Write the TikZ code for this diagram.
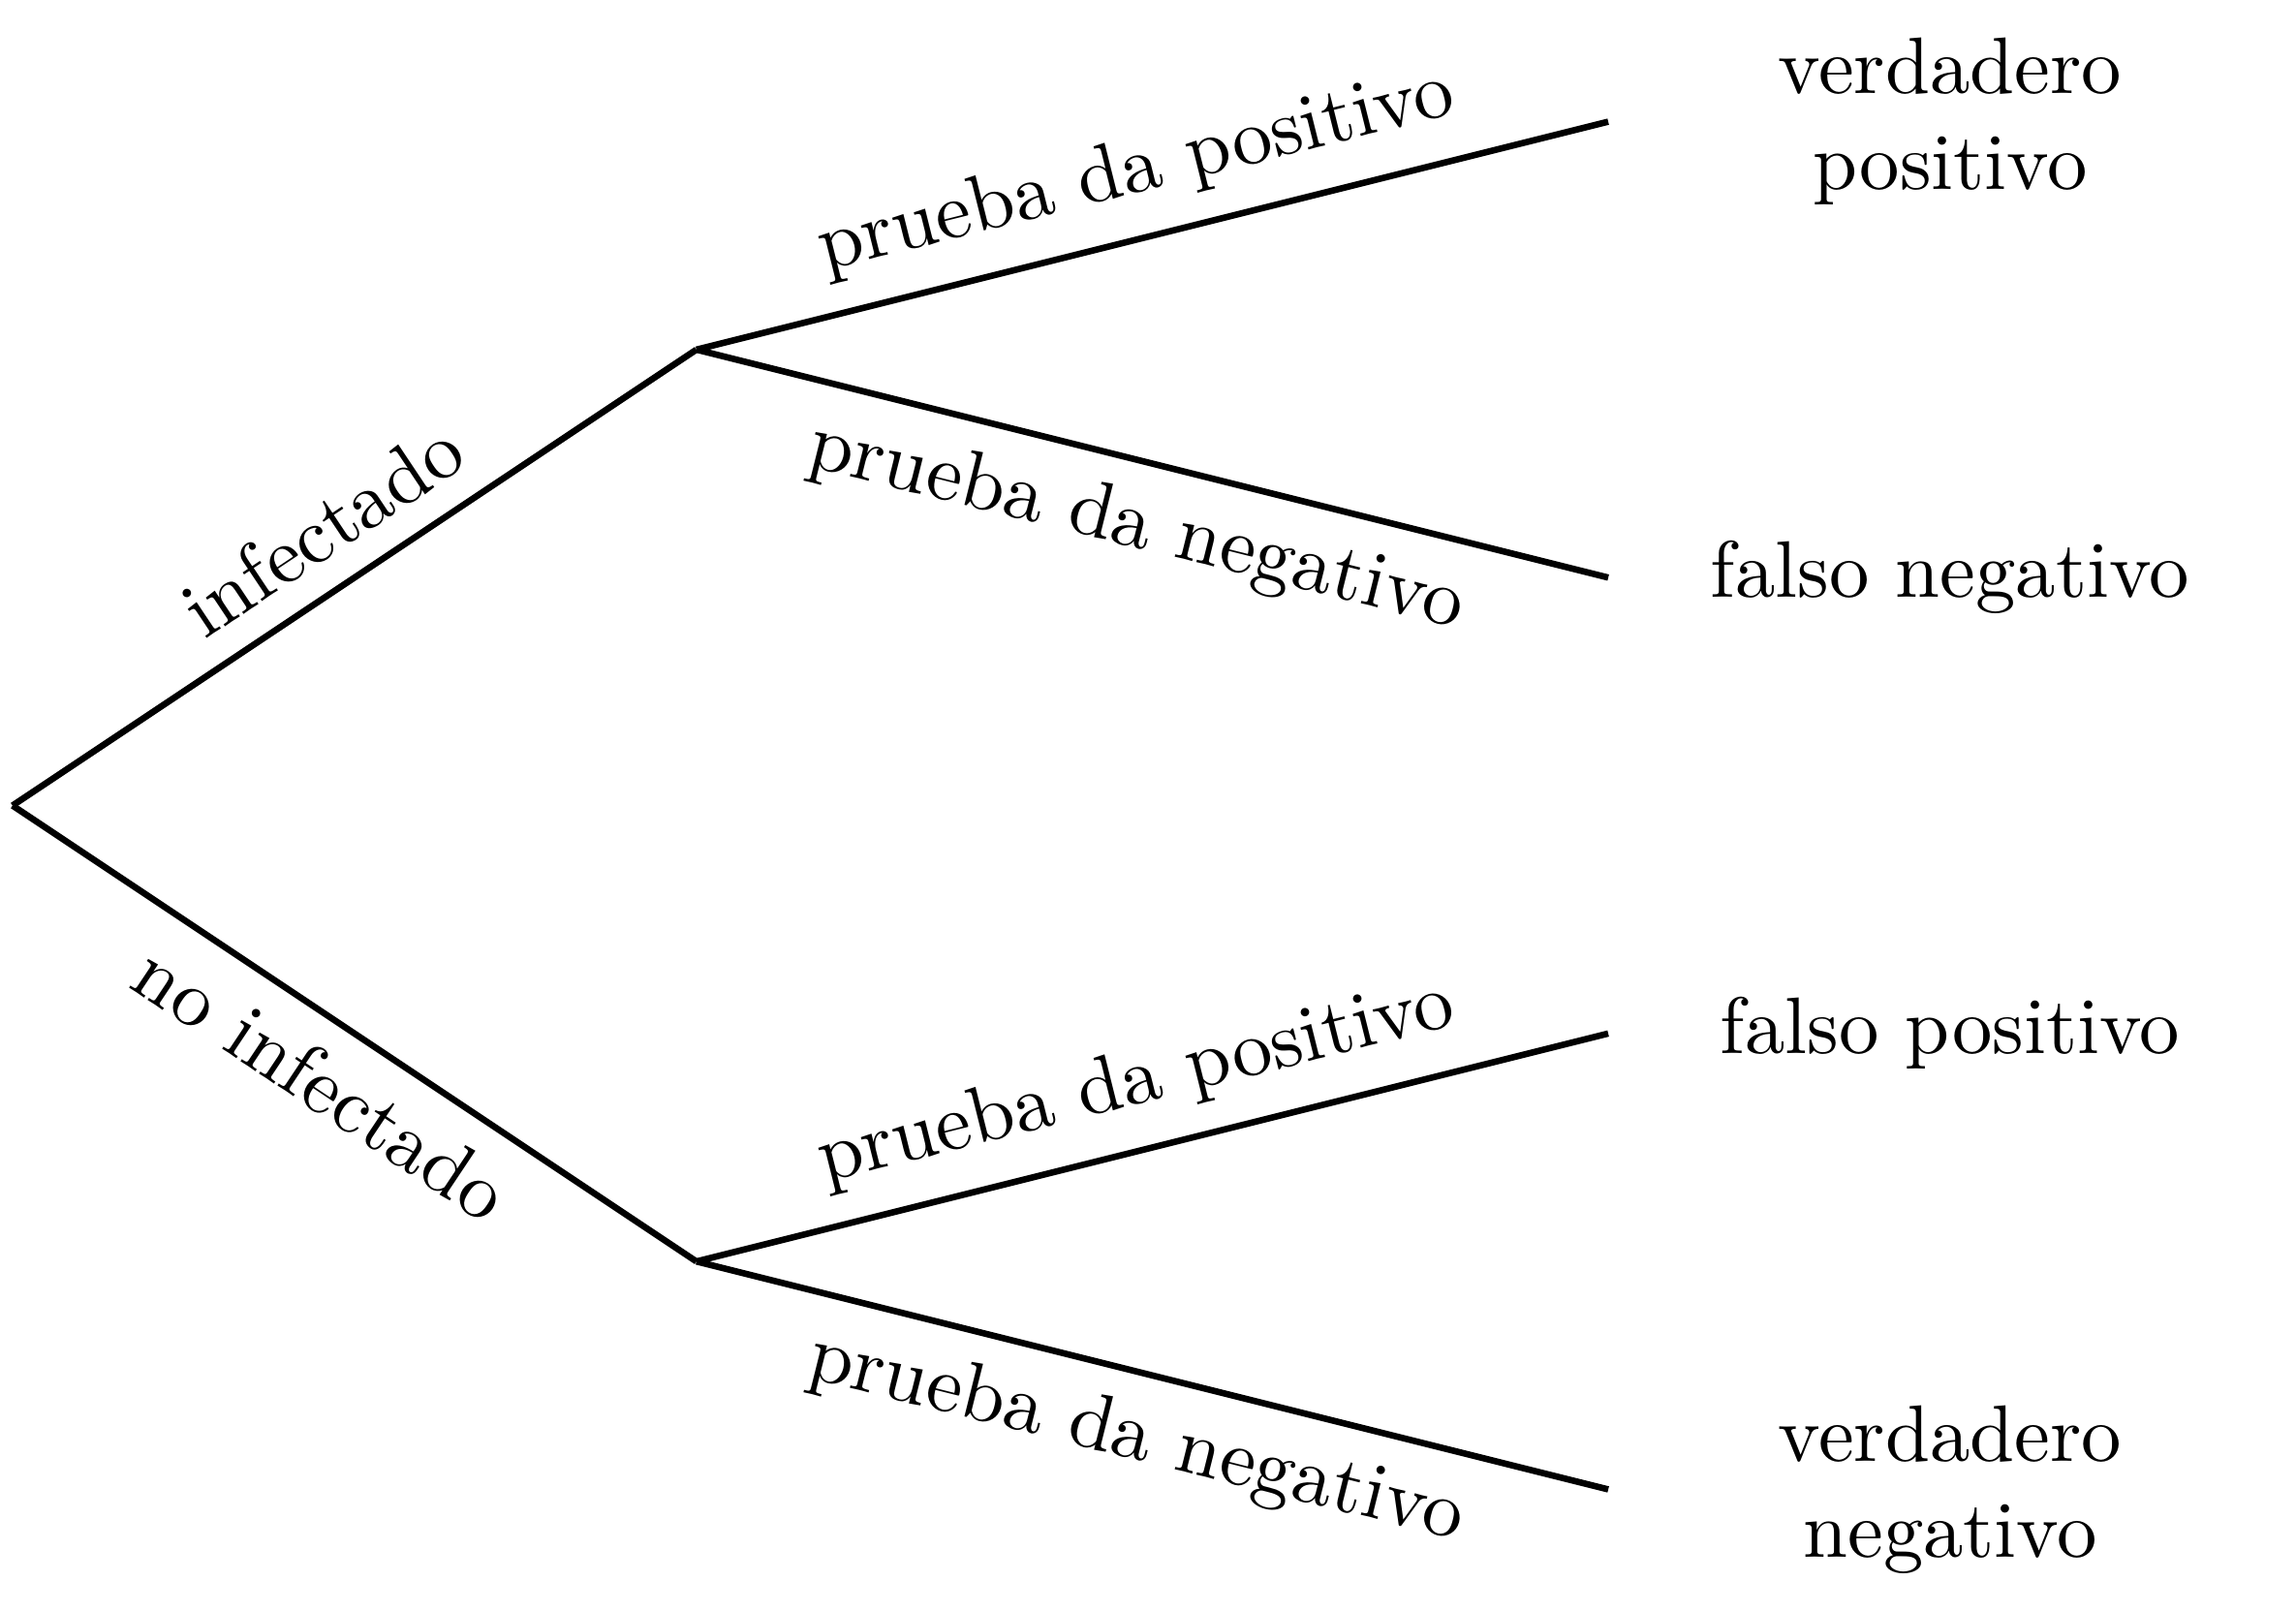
\documentclass[tikz,border=0pt]{standalone}
\begin{document}
\begin{tikzpicture}[
  branch/.style={thick},
  lbl/.style={midway,sloped,font=\fontsize{10}{12}\selectfont},
  leaf/.style={align=center,font=\fontsize{10}{12}\selectfont}
]
\useasboundingbox (-0.055,-3.534) rectangle (10.017,3.534);
\coordinate (r) at (0,0);
\coordinate (i) at (3,2);
\coordinate (n) at (3,-2);
\coordinate (ip) at (7,3);
\coordinate (in) at (7,1);
\coordinate (np) at (7,-1);
\coordinate (nn) at (7,-3);
\draw[branch] (r) -- node[lbl,above]{infectado} (i);
\draw[branch] (r) -- node[lbl,below]{no infectado} (n);
\draw[branch] (i) -- node[lbl,above]{prueba da positivo} (ip);
\draw[branch] (i) -- node[lbl,below]{prueba da negativo} (in);
\draw[branch] (n) -- node[lbl,above]{prueba da positivo} (np);
\draw[branch] (n) -- node[lbl,below]{prueba da negativo} (nn);
\node[leaf] (tp) at (8.5,3) {verdadero\\positivo};
\node[leaf] (fn) at (8.5,1) {falso negativo};
\node[leaf] (fp) at (8.5,-1) {falso positivo};
\node[leaf] (tn) at (8.5,-3) {verdadero\\negativo};
\end{tikzpicture}
\end{document}
